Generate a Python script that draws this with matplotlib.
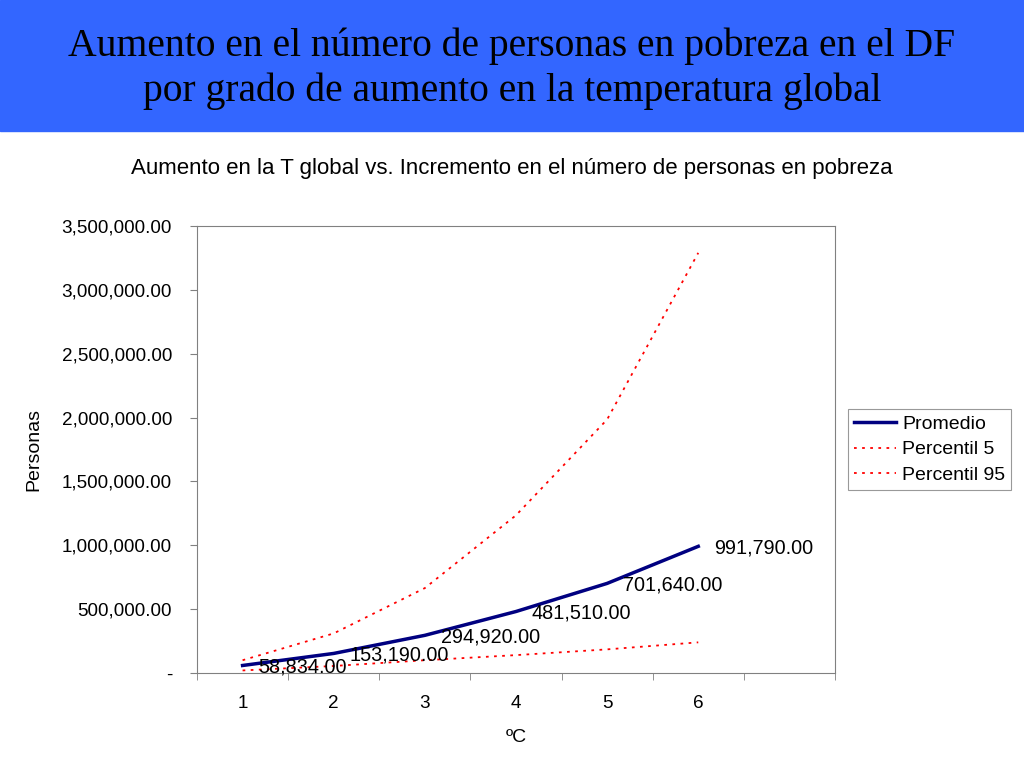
import matplotlib.pyplot as plt
from matplotlib.patches import Rectangle
from matplotlib.ticker import FuncFormatter

# data
grados = [1, 2, 3, 4, 5, 6]
promedio = [58834, 153190, 294920, 481510, 701640, 991790]
percentil_5 = [100000, 310000, 665000, 1235000, 1985000, 3290000]
percentil_95 = [20000, 55000, 100000, 140000, 185000, 240000]

fig = plt.figure(figsize=(10.24, 7.68), dpi=100)

# blue header band
fig.patches.append(Rectangle((0, 0.83), 1, 0.17, transform=fig.transFigure,
                             color='#3366FF', zorder=0))
fig.text(0.5, 0.911, 'Aumento en el número de personas en pobreza en el DF\n'
         'por grado de aumento en la temperatura global',
         ha='center', va='center', fontsize=28.5, family='Liberation Serif',
         linespacing=1.27)

fig.text(0.5, 0.781, 'Aumento en la T global vs. Incremento en el número de personas en pobreza',
         ha='center', va='center', fontsize=16, family='Liberation Sans')

ax = fig.add_axes([0.1924, 0.1237, 0.623, 0.582])
pos = list(range(len(grados)))
ax.plot(pos, promedio, color='#000080', lw=2.5, label='Promedio')
ax.plot(pos, percentil_5, color='#FF0000', lw=1.3, ls=(0, (1.5, 3)), label='Percentil 5')
ax.plot(pos, percentil_95, color='#FF0000', lw=1.3, ls=(0, (1.5, 3)), label='Percentil 95')

for p, v in zip(pos, promedio):
    ax.annotate(f'{v:,.2f}', (p, v), xytext=(11.5, -1), textcoords='offset points',
                ha='left', va='center', fontsize=14.3, family='Liberation Sans')

ax.set_xlim(-0.5, 6.5)
ax.set_ylim(0, 3500000)
ax.set_yticks(range(0, 3500001, 500000))
ax.yaxis.set_major_formatter(FuncFormatter(lambda v, _: '-' if v == 0 else f'{v:,.2f}'))
ax.set_xticks(pos)
ax.set_xticklabels([str(g) for g in grados])
ax.set_xticks([i - 0.5 for i in range(8)], minor=True)
ax.tick_params(axis='x', which='major', length=0, pad=16)
ax.tick_params(axis='x', which='minor', length=5, color='#808080')
ax.tick_params(axis='y', length=5, color='#808080', pad=13)
for lab in ax.get_xticklabels() + ax.get_yticklabels():
    lab.set_family('Liberation Sans')
    lab.set_fontsize(13.6)
for s in ax.spines.values():
    s.set_color('#808080')

ax.set_ylabel('Personas', fontsize=14, family='Liberation Sans', labelpad=14)
ax.set_xlabel('ºC', fontsize=14, family='Liberation Sans', labelpad=12)

leg = ax.legend(loc='center left', bbox_to_anchor=(1.02, 0.5), frameon=True,
                fancybox=False, edgecolor='#808080',
                prop={'family': 'Liberation Sans', 'size': 14},
                handlelength=2.2, handletextpad=0.3, borderaxespad=0,
                borderpad=0.3, labelspacing=0.42)
leg.get_frame().set_linewidth(0.8)

fig.savefig('out.png', dpi=100)
